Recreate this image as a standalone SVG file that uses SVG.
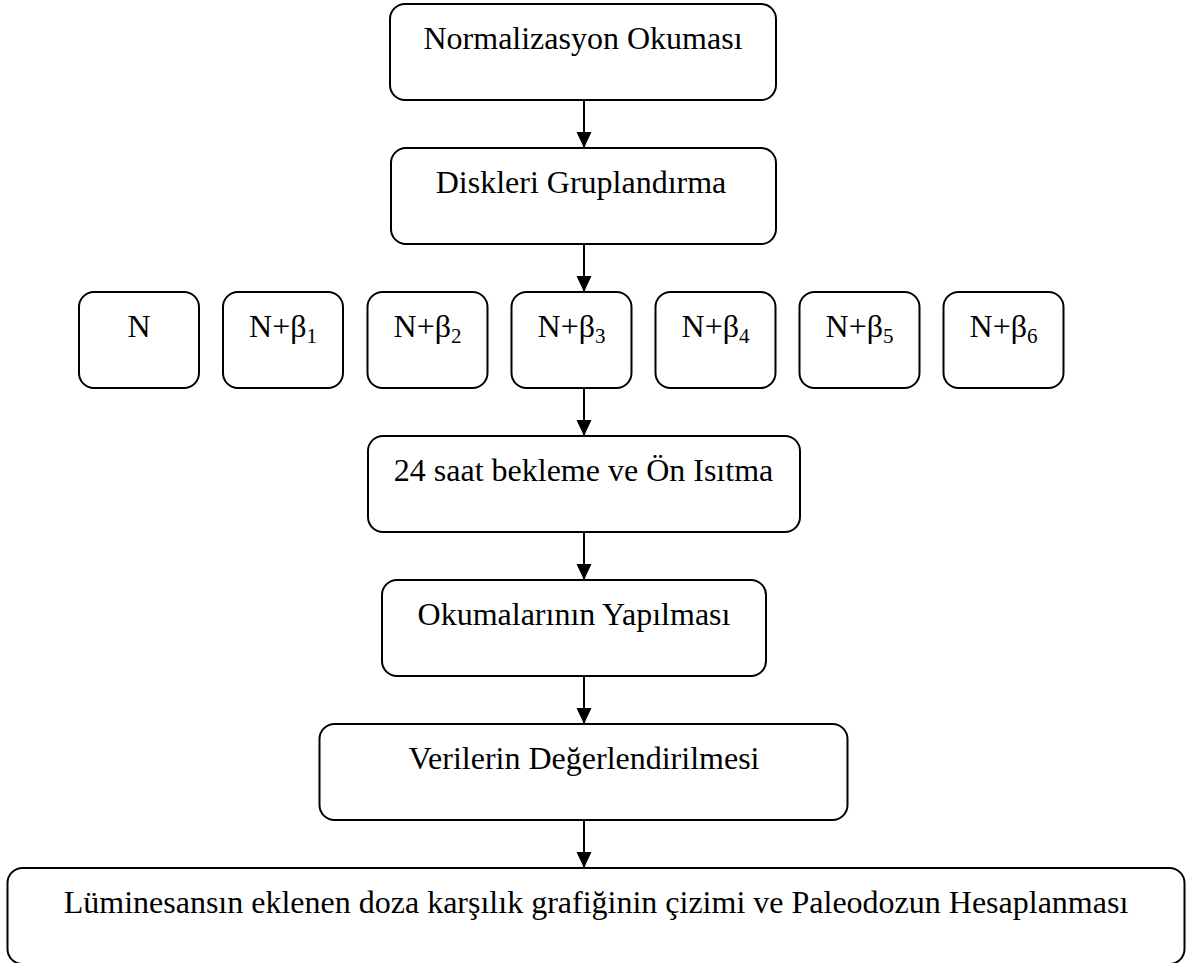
<svg xmlns="http://www.w3.org/2000/svg" width="1192" height="963" viewBox="0 0 1192 963">
<style>
.box{fill:#fff;stroke:#000;stroke-width:2}
.t{font-family:"Liberation Serif","Times New Roman",serif;font-size:32px;fill:#000;text-anchor:middle}
.sub{font-size:21px}
.conn{stroke:#000;stroke-width:2;fill:none}
</style>
<defs>
<marker id="arr" markerUnits="userSpaceOnUse" markerWidth="16" markerHeight="16" viewBox="0 0 16 16" refX="16" refY="8" orient="auto">
<path d="M0,0.5 L16,8 L0,15.5 Z" fill="#000"/>
</marker>
</defs>
<rect width="1192" height="963" fill="#fff"/>
<g id="connectors">
<line class="conn" x1="584" y1="100" x2="584" y2="148" marker-end="url(#arr)"/>
<line class="conn" x1="584" y1="244" x2="584" y2="292" marker-end="url(#arr)"/>
<line class="conn" x1="584" y1="388" x2="584" y2="436" marker-end="url(#arr)"/>
<line class="conn" x1="584" y1="532" x2="584" y2="580" marker-end="url(#arr)"/>
<line class="conn" x1="584" y1="676" x2="584" y2="724" marker-end="url(#arr)"/>
<line class="conn" x1="584" y1="820" x2="584" y2="868" marker-end="url(#arr)"/>
</g>
<g id="n1"><rect class="box" x="390" y="4" width="386" height="96" rx="15"/><text class="t" x="583" y="49">Normalizasyon Okuması</text></g>
<g id="n2"><rect class="box" x="391" y="148" width="385" height="96" rx="15"/><text class="t" x="581" y="193">Diskleri Gruplandırma</text></g>
<g id="s0"><rect class="box" x="79" y="292" width="120" height="96" rx="15"/><text class="t" x="139" y="337">N</text></g>
<g id="s1"><rect class="box" x="223" y="292" width="120" height="96" rx="15"/><text class="t" x="283" y="337">N+β<tspan class="sub" dy="6">1</tspan></text></g>
<g id="s2"><rect class="box" x="367.5" y="292" width="120" height="96" rx="15"/><text class="t" x="427.5" y="337">N+β<tspan class="sub" dy="6">2</tspan></text></g>
<g id="s3"><rect class="box" x="511.5" y="292" width="120" height="96" rx="15"/><text class="t" x="571.5" y="337">N+β<tspan class="sub" dy="6">3</tspan></text></g>
<g id="s4"><rect class="box" x="655.5" y="292" width="120" height="96" rx="15"/><text class="t" x="715.5" y="337">N+β<tspan class="sub" dy="6">4</tspan></text></g>
<g id="s5"><rect class="box" x="799.5" y="292" width="120" height="96" rx="15"/><text class="t" x="859.5" y="337">N+β<tspan class="sub" dy="6">5</tspan></text></g>
<g id="s6"><rect class="box" x="943.5" y="292" width="120" height="96" rx="15"/><text class="t" x="1003.5" y="337">N+β<tspan class="sub" dy="6">6</tspan></text></g>
<g id="n3"><rect class="box" x="368" y="436" width="432" height="96" rx="15"/><text class="t" x="583.5" y="481">24 saat bekleme ve Ön Isıtma</text></g>
<g id="n4"><rect class="box" x="382" y="580" width="384" height="96" rx="15"/><text class="t" x="574" y="625">Okumalarının Yapılması</text></g>
<g id="n5"><rect class="box" x="319.5" y="724" width="528" height="96" rx="15"/><text class="t" x="584" y="769">Verilerin Değerlendirilmesi</text></g>
<g id="n6"><rect class="box" x="7.5" y="868" width="1177" height="96" rx="15"/><text class="t" x="596" y="913">Lüminesansın eklenen doza karşılık grafiğinin çizimi ve Paleodozun Hesaplanması</text></g>
</svg>
